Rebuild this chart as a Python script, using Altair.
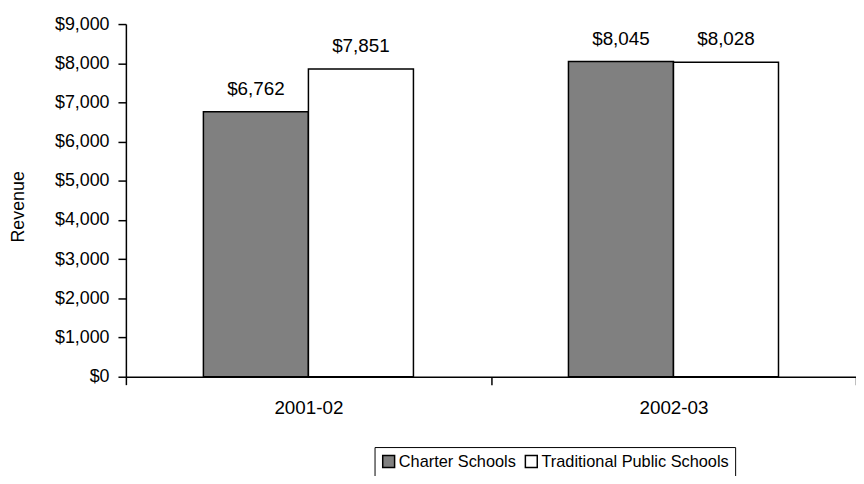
import altair as alt
import pandas as pd

years = ["2001-02", "2001-02", "2002-03", "2002-03"]
types = ["Charter Schools", "Traditional Public Schools", "Charter Schools", "Traditional Public Schools"]
revenue = [6762, 7851, 8045, 8028]
type_order = ["Charter Schools", "Traditional Public Schools"]
type_colors = ["#808080", "#ffffff"]
y_ticks = [0, 1000, 2000, 3000, 4000, 5000, 6000, 7000, 8000, 9000]

df = pd.DataFrame({"Year": years, "Type": types, "Revenue": revenue})

FONT = "Liberation Sans"

base = alt.Chart(df).encode(
    x=alt.X("Year:N", title=None,
            scale=alt.Scale(paddingInner=0, paddingOuter=0),
            axis=alt.Axis(labelAngle=0, tickBand="extent", tickSize=8, labelPadding=14,
                          labelFontSize=19, labelColor="black", domainColor="black",
                          tickColor="black", domainWidth=1.5, tickWidth=1.5, labelFont=FONT)),
    xOffset=alt.XOffset("Type:N", sort=type_order,
                        scale=alt.Scale(paddingOuter=0.738, paddingInner=0)),
    y=alt.Y("Revenue:Q", title="Revenue",
            scale=alt.Scale(domain=[0, 9000], nice=False, zero=True),
            axis=alt.Axis(values=y_ticks, tickCount=10, format="$,.0f", grid=False, tickSize=8,
                          labelOverlap=False, labelFlush=False,
                          labelPadding=9, labelFontSize=18, labelColor="black",
                          titleFontSize=18, titleFontWeight="normal", titleColor="black",
                          titleX=-99, titleY=184,
                          domainColor="black", tickColor="black",
                          domainWidth=1.5, tickWidth=1.5, labelFont=FONT, titleFont=FONT)),
)

bars = base.mark_bar(stroke="black", strokeWidth=1.5).encode(
    fill=alt.Fill("Type:N", sort=type_order,
                  scale=alt.Scale(domain=type_order, range=type_colors),
                  legend=alt.Legend(title=None, orient="none", legendX=251, legendY=427,
                                    direction="horizontal", symbolType="square",
                                    symbolSize=144, symbolStrokeColor="black",
                                    symbolStrokeWidth=1.5, labelFontSize=16.5,
                                    labelColor="black", labelFont=FONT, labelOffset=2,
                                    labelLimit=400,
                                    columnPadding=6, strokeColor="black", padding=6)),
)

labels = base.mark_text(fontSize=19, font=FONT, color="black", baseline="alphabetic", dy=-17).encode(
    text=alt.Text("Revenue:Q", format="$,.0f"),
)

chart = alt.layer(bars, labels).properties(
    width=737, height=356,
    autosize=alt.AutoSizeParams(type="none"),
    padding={"left": 119, "top": 14, "right": 0, "bottom": 98},
    background="white",
).configure_view(strokeWidth=0)

chart.save("out.html", embed_options={"renderer": "svg", "actions": False})
